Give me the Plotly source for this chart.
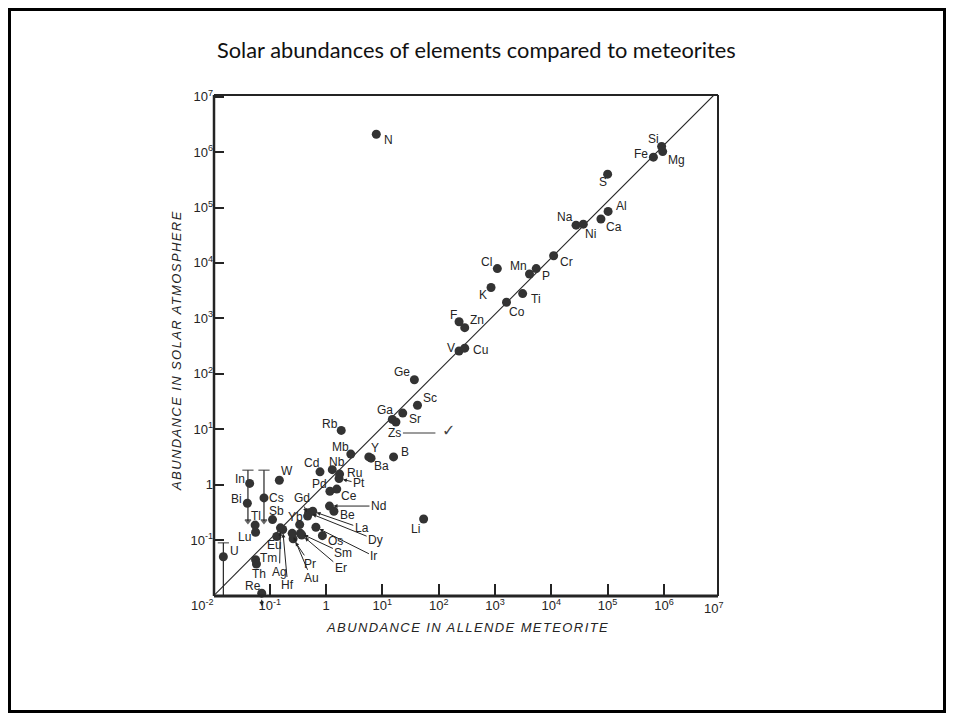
import numpy as np
import plotly.graph_objects as go

# ---------------- data ----------------
elements = ["He", "Ne", "Ar", "N", "H", "C", "O",
            "Si", "Mg", "Fe", "S", "Al", "Ca", "Na", "Ni", "Cr",
            "Cl", "Mn", "P", "K", "Ti", "Co",
            "F", "Zn", "V", "Cu",
            "Ge", "Sc", "Sr", "Ga", "Zs",
            "Rb", "Mb", "Y", "Ba", "B",
            "Cd", "Nb", "Ru", "Pt", "W", "In",
            "Pd", "Ce", "Bi", "Cs", "Nd", "Be", "Li",
            "Sb", "Tl", "Lu",
            "Gd", "Dy", "La", "Ir", "Os", "Yb", "Sm", "Er", "Pr", "Au", "Ag", "Hf", "Eu",
            "U", "Tm", "Th", "Re"]

allende = [0.01, 0.01, 0.01, 7.8, 1.9e4, 3.9e4, 3.5e6,
           9.1e5, 9.5e5, 6.5e5, 1.0e5, 1.02e5, 7.6e4, 2.75e4, 3.7e4, 1.1e4,
           1.1e3, 4.1e3, 5.4e3, 850, 3.1e3, 1.6e3,
           230, 290, 230, 290,
           37, 42, 23, 15, 17.4,
           1.86, 2.75, 5.75, 6.3, 15.8,
           0.78, 1.29, 1.74, 1.7, 0.148, 0.044,
           1.17, 1.55, 0.040, 0.079, 1.15, 1.38, 54,
           0.112, 0.055, 0.056,
           0.47, 0.49, 0.58, 0.66, 0.86, 0.34, 0.35, 0.37, 0.26, 0.25, 0.155, 0.17, 0.133,
           0.015, 0.056, 0.058, 0.072]

solar = [1.0e7, 7.6e5, 1.9e4, 2.1e6, 1.17e7, 1.15e7, 1.17e7,
         1.26e6, 1.02e6, 8.1e5, 4.0e5, 8.5e4, 6.2e4, 4.8e4, 5.0e4, 1.35e4,
         7.9e3, 6.3e3, 7.9e3, 3.6e3, 2.8e3, 1.95e3,
         870, 680, 257, 290,
         78, 27, 19.5, 15, 13.5,
         9.5, 3.55, 3.16, 3.0, 3.16,
         1.7, 1.86, 1.55, 1.29, 1.2, 1.05,
         0.76, 0.83, 0.46, 0.575, 0.41, 0.33, 0.24,
         0.234, 0.186, 0.138,
         0.27, 0.31, 0.33, 0.17, 0.12, 0.19, 0.132, 0.123, 0.105, 0.132, 0.166, 0.155, 0.116,
         0.050, 0.044, 0.037, 0.011]

# upper-limit ranges (vertical bars with downward arrows)
limit_elements = ["In", "Cs", "U"]
limit_x = [0.041, 0.079, 0.015]
limit_top = [1.82, 1.82, 0.089]
limit_bottom = [0.22, 0.22, 0.0075]

# 1:1 reference line end points
diag_x = [0.0107, 1.15e7]
diag_y = [0.0105, 1.6e7]

x_tickvals = [1e-1, 1, 1e1, 1e2, 1e3, 1e4, 1e5, 1e6]
x_ticktext = ["10<sup>-1</sup>", "1", "10<sup>1</sup>", "10<sup>2</sup>", "10<sup>3</sup>",
              "10<sup>4</sup>", "10<sup>5</sup>", "10<sup>6</sup>"]
y_tickvals = [1e-1, 1, 1e1, 1e2, 1e3, 1e4, 1e5, 1e6, 1e7]
y_ticktext = ["10<sup>-1</sup>", "1", "10<sup>1</sup>", "10<sup>2</sup>", "10<sup>3</sup>",
              "10<sup>4</sup>", "10<sup>5</sup>", "10<sup>6</sup>", "10<sup>7</sup>"]

# ---------------- layout / style ----------------
OFF = 8                      # page margin of the html body
W, H = 954 - 2 * OFF, 721 - 2 * OFF
L, T = 214 - OFF, 95 - OFF
R = W - (718 - OFF)
B = H - (596 - OFF)
PW, PH = W - L - R, H - T - B


def px2x(px):
    """page pixel x -> paper x"""
    return (px - OFF - L) / PW


def py2y(py):
    """page pixel y -> paper y"""
    return (H - B - (py - OFF)) / PH


INK = "#242424"
DOT = "#333333"
LABEL_FONT = dict(family="Liberation Sans, Arial, sans-serif", size=12, color=INK)

# plain label offsets (dx, dy) in screen pixels from the point
LABEL_OFFSET = {
    "He": (14, 8), "Ne": (16, 5), "Ar": (16, 0), "N": (12, 6),
    "H": (-8, 12), "C": (8, 12), "O": (-8, 12),
    "Si": (-8, -8), "Mg": (14, 8), "Fe": (-12, -3), "S": (-5, 8),
    "Al": (13, -5), "Ca": (13, 8), "Na": (-11, -8), "Ni": (7, 10), "Cr": (13, 6),
    "Cl": (-11, -7), "Mn": (-11, -8), "P": (10, 7), "K": (-8, 7), "Ti": (13, 5),
    "Co": (10, 10), "F": (-6, -7), "Zn": (12, -8), "V": (-8, -3), "Cu": (16, 2),
    "Ge": (-12, -8), "Sc": (13, -7), "Ga": (-7, -9), "Sr": (12, 6), "Zs": (-1, 11),
    "Rb": (-11, -6), "Mb": (-10, -7), "Y": (6, -9), "Ba": (10, 8), "B": (11, -5),
    "Cd": (-8, -9), "Nb": (5, -8), "Ru": (15, -1), "W": (8, -9), "In": (-10, -4),
    "Pd": (-10, -7), "Ce": (12, 7), "Bi": (-11, -4), "Cs": (13, 0), "Be": (14, 4),
    "Li": (-8, 10), "Sb": (4, -9), "Tl": (1, -9), "Lu": (-11, 5), "Yb": (-4, -8),
    "Os": (13, 5), "Eu": (-2, 9), "U": (11, -6), "Tm": (13, -2), "Th": (3, 10),
    "Re": (-9, -7),
}
# labels with a pointer arrow (ax, ay) in screen pixels
ARROW_LABEL = {
    "Pt": (20, 5), "Nd": (49, 0), "Gd": (-6, -18), "La": (49, 17), "Dy": (67, 27),
    "Ir": (58, 29), "Sm": (43, 20), "Er": (39, 33), "Pr": (17, 25), "Au": (19, 45),
    "Ag": (-1, 44), "Hf": (5, 56),
}
# limit indicator arrows: (tip xshift, tip yshift, ax, ay)
LIMIT_ARROW = {
    "He": (-9, 10, 8, 8), "H": (0, 15, 0, 7), "O": (0, 15, 0, 7),
    "Ne": (-12, 0, 8, 0), "Ar": (-12, 0, 8, 0), "Re": (0, -13, 0, -8),
}

fig = go.Figure()

fig.add_trace(go.Scatter(x=diag_x, y=diag_y, mode="lines",
                         line=dict(color=INK, width=1.1), hoverinfo="skip"))

for i, name in enumerate(limit_elements):
    fig.add_trace(go.Scatter(
        x=[limit_x[i], limit_x[i]], y=[limit_top[i], limit_bottom[i]],
        mode="lines+markers", line=dict(color=INK, width=1.2),
        marker=dict(symbol=["line-ew", "triangle-down"], size=[8, 5], color=INK,
                    line=dict(color=INK, width=1.3)),
        cliponaxis=False, hoverinfo="skip"))

fig.add_trace(go.Scatter(x=allende, y=solar, mode="markers", text=elements,
                         marker=dict(size=9, color=DOT), cliponaxis=False))

annotations = []
for name, xv, yv in zip(elements, allende, solar):
    lx, ly = np.log10(xv), np.log10(yv)
    if name in ARROW_LABEL:
        ax, ay = ARROW_LABEL[name]
        annotations.append(dict(x=lx, y=ly, xref="x", yref="y", text=name, showarrow=True,
                                ax=ax, ay=ay, arrowhead=2, arrowsize=0.8, arrowwidth=1,
                                arrowcolor=INK, standoff=4, font=LABEL_FONT))
    elif name in LABEL_OFFSET:
        dx, dy = LABEL_OFFSET[name]
        annotations.append(dict(x=lx, y=ly, xref="x", yref="y", text=name, showarrow=False,
                                xanchor="center", yanchor="middle",
                                xshift=dx, yshift=-dy, font=LABEL_FONT))
    if name in LIMIT_ARROW:
        sx, sy, ax, ay = LIMIT_ARROW[name]
        annotations.append(dict(x=lx, y=ly, xref="x", yref="y", text="", showarrow=True,
                                xshift=sx, yshift=sy, ax=ax, ay=ay, arrowhead=2,
                                arrowsize=0.8, arrowwidth=1.1, arrowcolor=INK, standoff=0))
    if name == "Zs":
        annotations.append(dict(x=lx, y=ly, xref="x", yref="y", text="", showarrow=True,
                                xshift=7, yshift=-11, ax=34, ay=0, arrowhead=0,
                                arrowwidth=1.1, arrowcolor="#3a3a3a", standoff=0))
        annotations.append(dict(x=lx, y=ly, xref="x", yref="y", text="✓", showarrow=False,
                                xanchor="center", yanchor="middle", xshift=53, yshift=-9,
                                font=dict(family="DejaVu Sans", size=16, color="#444")))

TICK_FONT = dict(family="Liberation Sans, Arial", size=13, color=INK)
# extra axis text
annotations.append(dict(x=px2x(714), y=0, xref="paper", yref="paper", text="10<sup>7</sup>",
                        showarrow=False, xanchor="center", yanchor="top", yshift=-2,
                        font=TICK_FONT))
annotations.append(dict(x=px2x(202), y=py2y(605), xref="paper", yref="paper",
                        text="10<sup>-2</sup>", showarrow=False, xanchor="center",
                        yanchor="middle", font=TICK_FONT))
# axis titles
TITLE_FONT = dict(family="Liberation Sans, Arial", size=13, color=INK, style="italic")
annotations.append(dict(x=px2x(467), y=py2y(627), xref="paper", yref="paper",
                        text='<span style="letter-spacing:1.4px">ABUNDANCE IN ALLENDE METEORITE</span>',
                        showarrow=False, xanchor="center", yanchor="middle", font=TITLE_FONT))
annotations.append(dict(x=px2x(176), y=py2y(351), xref="paper", yref="paper", textangle=-90,
                        text='<span style="letter-spacing:1.4px">ABUNDANCE IN SOLAR ATMOSPHERE</span>',
                        showarrow=False, xanchor="center", yanchor="middle", font=TITLE_FONT))
# slide title
annotations.append(dict(x=px2x(476), y=py2y(49), xref="paper", yref="paper",
                        text="Solar abundances of elements compared to meteorites",
                        showarrow=False, xanchor="center", yanchor="middle",
                        font=dict(family="Lato, Open Sans", size=21.8, color="#111")))

shapes = [
    # plot frame
    dict(type="line", xref="paper", yref="paper", x0=0, x1=1, y0=0, y1=0,
         line=dict(color=INK, width=3)),
    dict(type="line", xref="paper", yref="paper", x0=0, x1=0, y0=0, y1=1,
         line=dict(color=INK, width=2.5)),
    dict(type="line", xref="paper", yref="paper", x0=0, x1=1, y0=1, y1=1,
         line=dict(color=INK, width=2)),
    dict(type="line", xref="paper", yref="paper", x0=1, x1=1, y0=0, y1=1,
         line=dict(color=INK, width=2)),
    # slide border
    dict(type="rect", xref="paper", yref="paper", x0=px2x(OFF + 1.5), x1=px2x(954 - OFF - 1.5),
         y0=py2y(721 - OFF - 1.5), y1=py2y(OFF + 1.5), line=dict(color="#000", width=3)),
]

fig.update_xaxes(type="log", range=[-1.99, 6.96], tickmode="array", tickvals=x_tickvals,
                 ticktext=x_ticktext, ticks="inside", ticklen=12, tickwidth=1.5, tickcolor=INK,
                 showgrid=False, zeroline=False, showline=False, tickfont=TICK_FONT)
fig.update_yaxes(type="log", range=[-2.01, 7.03], tickmode="array", tickvals=y_tickvals,
                 ticktext=y_ticktext, ticks="inside", ticklen=10, tickwidth=1.5, tickcolor=INK,
                 showgrid=False, zeroline=False, showline=False, tickfont=TICK_FONT)

fig.update_layout(width=W, height=H, margin=dict(l=L, r=R, t=T, b=B, autoexpand=False),
                  paper_bgcolor="white", plot_bgcolor="white", showlegend=False,
                  annotations=annotations, shapes=shapes)

fig.write_html("out.html")
